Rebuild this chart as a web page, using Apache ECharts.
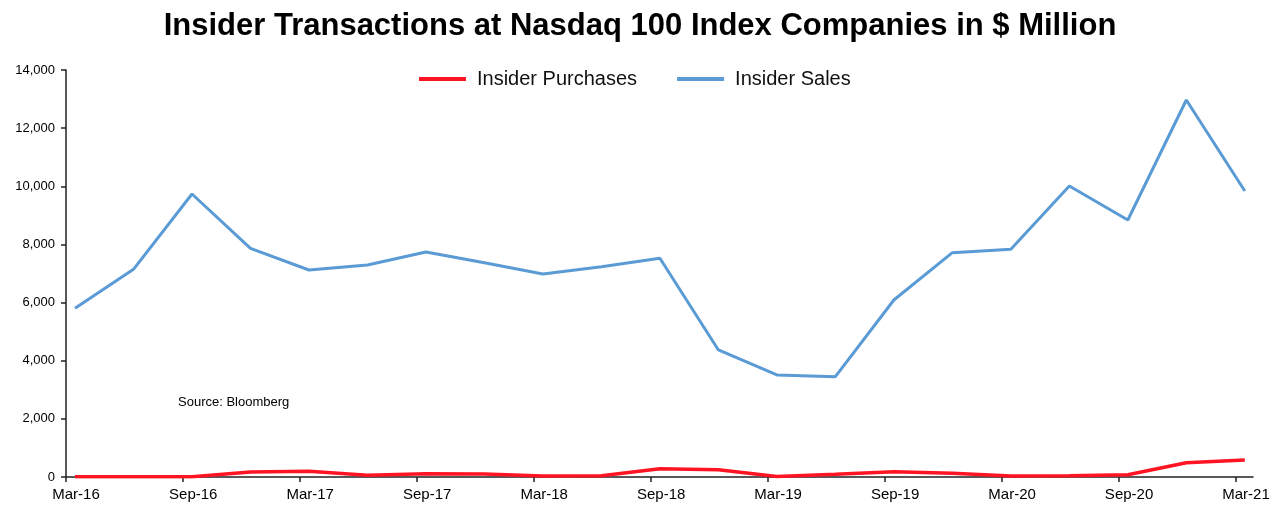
<!DOCTYPE html>
<html>
<head>
<meta charset="utf-8">
<script src="https://cdn.jsdelivr.net/npm/echarts@6/dist/echarts.min.js"></script>
<style>
html,body{margin:0;padding:0;background:#fff;}
#chart{width:1280px;height:513px;}
</style>
</head>
<body>
<div id="chart"></div>
<script>
var categories = ['Mar-16','Jun-16','Sep-16','Dec-16','Mar-17','Jun-17','Sep-17','Dec-17','Mar-18','Jun-18','Sep-18','Dec-18','Mar-19','Jun-19','Sep-19','Dec-19','Mar-20','Jun-20','Sep-20','Dec-20','Mar-21'];
var insiderPurchases = [5, 5, 10, 172, 195, 57, 115, 100, 35, 45, 287, 252, 20, 92, 183, 126, 35, 45, 80, 493, 585];
var insiderSales = [5803, 7144, 9735, 7866, 7121, 7293, 7740, 7372, 6983, 7235, 7523, 4369, 3509, 3451, 6089, 7716, 7832, 10010, 8841, 12969, 9838];
var yTicks = [0, 2000, 4000, 6000, 8000, 10000, 12000, 14000];

function pairs(arr){ return arr.map(function(v,i){ return [i, v]; }); }

var chart = echarts.init(document.getElementById('chart'));
var font = 'Liberation Sans, Arial, Helvetica, sans-serif';
chart.setOption({
  backgroundColor: '#ffffff',
  animation: false,
  title: {
    text: 'Insider Transactions at Nasdaq 100 Index Companies in $ Million',
    left: 'center', top: 6,
    textStyle: { fontFamily: font, fontSize: 31, fontWeight: 'bold', color: '#000' }
  },
  legend: {
    top: 64, left: 414,
    itemWidth: 47, itemHeight: 4, itemGap: 40,
    icon: 'rect',
    textStyle: { fontFamily: font, fontSize: 20, color: '#111', padding: [0, 0, 0, 6] },
    data: ['Insider Purchases', 'Insider Sales']
  },
  grid: { left: 66, right: 27, top: 70, bottom: 36 },
  xAxis: {
    type: 'value',
    min: -0.154, max: 20.14, interval: 2,
    axisLine: { show: true, lineStyle: { color: '#222', width: 1.5 } },
    axisTick: { show: true, length: 5, inside: false, lineStyle: { color: '#222', width: 1.5 } },
    splitLine: { show: false },
    axisLabel: {
      fontFamily: font, fontSize: 15, color: '#000', margin: 10,
      padding: [0, 0, 0, 20],
      showMaxLabel: false,
      formatter: function(v){ var i = Math.round(v); return categories[i] || ''; }
    }
  },
  yAxis: {
    type: 'value',
    min: yTicks[0], max: yTicks[yTicks.length-1], interval: 2000,
    axisLine: { show: true, onZero: false, lineStyle: { color: '#222', width: 1.5 } },
    axisTick: { show: true, length: 5, lineStyle: { color: '#222', width: 1.5 } },
    splitLine: { show: false },
    axisLabel: {
      fontFamily: font, fontSize: 13, color: '#000', margin: 11,
      formatter: function(v){ return v.toLocaleString('en-US'); }
    }
  },
  series: [
    { name: 'Insider Purchases', type: 'line', data: pairs(insiderPurchases),
      showSymbol: false, symbol: 'none', color: '#ff1423',
      lineStyle: { width: 3.5, color: '#ff1423' }, z: 3 },
    { name: 'Insider Sales', type: 'line', data: pairs(insiderSales),
      showSymbol: false, symbol: 'none', color: '#5b9bd5',
      lineStyle: { width: 3, color: '#5b9bd5' }, z: 2 }
  ],
  graphic: [
    { type: 'text', left: 178, top: 396,
      style: { text: 'Source: Bloomberg', font: '13px ' + font, fill: '#000' } }
  ]
});
</script>
</body>
</html>
